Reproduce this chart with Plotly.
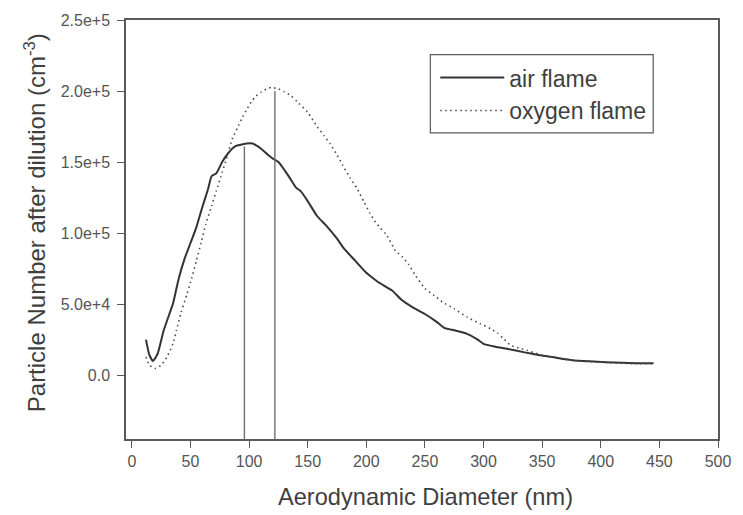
import plotly.graph_objects as go

# ---------------- data ----------------
air_x = [12, 15, 18, 22, 27, 32, 35, 40, 45, 50, 55, 60, 65, 68, 72, 77, 82, 88, 92, 98,
         103, 106, 110, 116, 121, 125, 133, 140, 144, 150, 158, 166, 175, 181, 190, 200,
         203, 210, 222, 230, 240, 250, 260, 267, 275, 286, 295, 300, 310, 320, 335, 348,
         360, 376, 390, 405, 418, 430, 445]
air_y = [25000, 14000, 10000, 15000, 31000, 43000, 50000, 68000, 82000, 93000, 104000,
         118000, 131000, 140000, 142000, 150000, 156000, 161000, 162000, 163000, 163000,
         161700, 159500, 155200, 152000, 150000, 141000, 132000, 129500, 122500, 112000,
         105000, 96000, 89000, 81000, 72000, 70000, 65500, 59500, 53000, 47500, 43000,
         37500, 33000, 31500, 29000, 25000, 22000, 20000, 18500, 16000, 14000, 12500,
         10500, 9700, 9000, 8600, 8300, 8300]

oxy_x = [12, 15, 20, 25, 30, 35, 38, 42, 47, 51, 55, 59, 63, 68, 72, 76, 80, 86, 90, 94,
         98, 102, 106, 110, 115, 119, 125, 130, 136, 141, 150, 158, 164, 169, 175, 180,
         186, 192, 198, 203, 208, 212, 217, 225, 231, 236, 242, 250, 258, 265, 275, 286,
         297, 306, 312, 317, 323, 330, 337, 348, 360, 376, 390, 405, 418, 430, 445]
oxy_y = [12800, 7000, 4700, 7000, 12800, 22000, 31500, 44000, 57000, 68000, 80500, 93000,
         106000, 119000, 129500, 140000, 150500, 167000, 174000, 181000, 187000, 192500,
         196500, 199000, 201500, 202500, 201500, 199500, 196500, 192500, 185000, 175000,
         168500, 163000, 155000, 147500, 139000, 131500, 122000, 114000, 107500, 103500,
         99000, 87500, 83000, 78000, 70000, 61000, 56000, 51300, 46700, 40800, 36200,
         32700, 29500, 25700, 21000, 19000, 17500, 14500, 12500, 10300, 9500, 8800, 8300,
         8000, 8000]

peak_x = [96, 122]
peak_top = [161000, 200000]

x_ticks = [0, 50, 100, 150, 200, 250, 300, 350, 400, 450, 500]
y_ticks = [0, 50000, 100000, 150000, 200000, 250000]
y_ticktext = ["0.0", "5.0e+4", "1.0e+5", "1.5e+5", "2.0e+5", "2.5e+5"]

x_range = [-5, 500]
y_range = [-45000, 250000]

FONT = "Liberation Sans, Arial, sans-serif"
TXT = "#3f3f3f"
AX = "#5a5a5a"

L, R, T, B = 126, 14, 18, 76
W, H = 743, 515
PW, PH = W - L - R, H - T - B


def px_x(p):
    return (p - L) / PW


def px_y(p):
    return 1 - (p - T) / PH


fig = go.Figure()
fig.add_trace(go.Scatter(x=air_x, y=air_y, mode="lines", name="air flame",
                         line=dict(color="#333333", width=2, shape="spline", smoothing=0.5)))
fig.add_trace(go.Scatter(x=oxy_x, y=oxy_y, mode="lines", name="oxygen flame",
                         line=dict(color="#4a4a4a", width=1.6, dash="1.5px,3.5px",
                                   shape="spline", smoothing=0.5)))

for px, pt in zip(peak_x, peak_top):
    fig.add_shape(type="line", xref="x", yref="y", x0=px, x1=px, y0=y_range[0], y1=pt,
                  line=dict(color="#707070", width=1.4))

# legend frame
fig.add_shape(type="rect", xref="paper", yref="paper",
              x0=px_x(436), x1=px_x(663), y0=px_y(131.5), y1=px_y(52.7),
              line=dict(color=AX, width=1.2), fillcolor="rgba(0,0,0,0)", layer="above")

fig.add_annotation(text="Particle Number after dilution (cm<sup>-3</sup>)",
                   xref="paper", yref="paper", x=px_x(33), y=px_y(221.5),
                   xanchor="center", yanchor="middle", textangle=-90, showarrow=False,
                   font=dict(size=24, color=TXT, family=FONT))
fig.add_annotation(text="Aerodynamic Diameter (nm)",
                   xref="paper", yref="paper", x=px_x(431), y=px_y(497),
                   xanchor="center", yanchor="middle", showarrow=False,
                   font=dict(size=23.6, color=TXT, family=FONT))

fig.update_layout(
    width=W, height=H,
    margin=dict(l=L, r=R, t=T, b=B),
    paper_bgcolor="white", plot_bgcolor="white",
    font=dict(family=FONT, color=TXT),
    showlegend=True,
    legend=dict(x=px_x(441), y=px_y(92.5), xanchor="left", yanchor="middle",
                borderwidth=0, bgcolor="rgba(0,0,0,0)",
                font=dict(size=23, color=TXT, family=FONT), itemwidth=64,
                tracegroupgap=0),
    xaxis=dict(range=x_range, tickvals=x_ticks, ticks="outside", ticklen=7, tickwidth=1.2,
               tickcolor=AX, showline=True, linecolor=AX, linewidth=1.5, mirror=True,
               showgrid=False, zeroline=False,
               tickfont=dict(size=16, color="#555555")),
    yaxis=dict(range=y_range, tickvals=y_ticks, ticktext=y_ticktext, ticks="outside",
               ticklen=7, tickwidth=1.2, tickcolor=AX, showline=True, linecolor=AX,
               linewidth=1.5, mirror=True, showgrid=False, zeroline=False,
               ticklabelstandoff=4,
               tickfont=dict(size=16, color="#555555")),
)

fig.write_html("out.html")
